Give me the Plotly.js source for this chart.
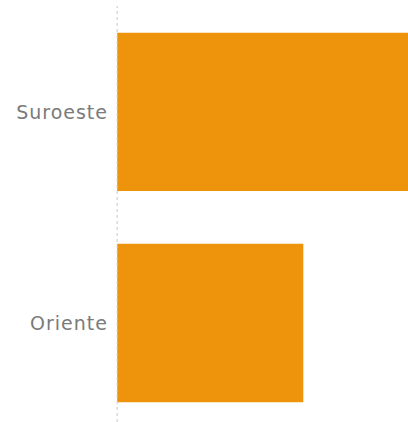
<!DOCTYPE html>
<html>
<head>
<meta charset="utf-8">
<script src="https://cdn.plot.ly/plotly-3.0.1.min.js"></script>
<style>
html,body{margin:0;padding:0;background:#fff;}
#chart{width:408px;height:422px;}
#chart .ytick text{letter-spacing:1px;}
</style>
</head>
<body>
<div id="chart"></div>
<script>
const categories = ['Oriente', 'Suroeste'];
const values = [64, 102];
const barColor = '#EE930C';

const trace = {
  type: 'bar',
  orientation: 'h',
  y: categories,
  x: values,
  width: 0.75,
  marker: {color: barColor, line: {width: 0}},
  hoverinfo: 'none'
};

const layout = {
  width: 408,
  height: 422,
  margin: {l: 116, r: 0, t: 6, b: 0, pad: 0},
  paper_bgcolor: '#fff',
  plot_bgcolor: '#fff',
  showlegend: false,
  xaxis: {
    range: [-0.4, 100],
    showgrid: false,
    zeroline: false,
    showticklabels: false,
    showline: false,
    ticks: ''
  },
  yaxis: {
    type: 'category',
    range: [-0.469, 1.502],
    showgrid: false,
    zeroline: false,
    showline: false,
    ticks: '',
    ticklabelstandoff: 7,
    tickfont: {family: 'DejaVu Sans', size: 19, color: '#7a7a7a'}
  },
  shapes: [{
    type: 'line', xref: 'x', yref: 'paper',
    x0: 0, x1: 0, y0: 0, y1: 1,
    line: {color: '#c8c8c8', width: 1, dash: 'dot'},
    layer: 'above'
  }]
};

Plotly.newPlot('chart', [trace], layout, {displayModeBar: false, staticPlot: true});
</script>
</body>
</html>
